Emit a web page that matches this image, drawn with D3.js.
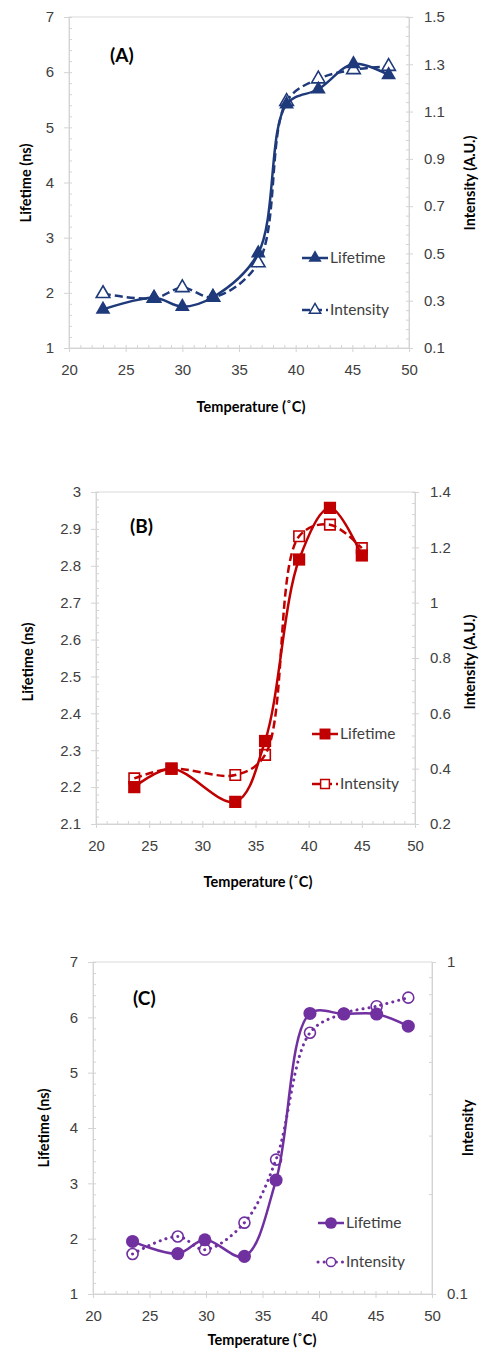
<!DOCTYPE html>
<html>
<head>
<meta charset="utf-8">
<script src="https://cdn.jsdelivr.net/npm/d3@7"></script>
<style>
  body { margin: 0; background: #fff; }
  svg { display: block; font-family: Lato, "Open Sans", sans-serif; }
  .tick text { fill: #404040; font-size: 15px; }
  .domain, .tick line { stroke: #d4d4d4; }
</style>
</head>
<body>
<svg id="chart" width="480" height="1351"></svg>
<script>
// Panel A
const tempA = [23, 27.5, 30, 32.7, 36.7, 39.2, 42, 45.1, 48.2];
const lifetimeA = [1.70, 1.91, 1.75, 1.92, 2.72, 5.42, 5.69, 6.15, 5.95];
const intensityA = [0.33, 0.31, 0.355, 0.315, 0.46, 1.143, 1.238, 1.277, 1.291];

// Panel B
const tempB = [23.6, 27.1, 33.1, 35.9, 39.1, 42.0, 45.0];
const lifetimeB = [2.20, 2.25, 2.16, 2.325, 2.817, 2.957, 2.828];
const intensityB = [0.365, 0.40, 0.377, 0.45, 1.24, 1.282, 1.197];

// Panel C
const tempC = [23.5, 27.5, 29.9, 33.4, 36.2, 39.2, 42.2, 45.1, 47.9];
const lifetimeC = [1.95, 1.73, 1.98, 1.68, 3.06, 6.07, 6.06, 6.06, 5.84];
const intensityC = [0.132, 0.149, 0.136, 0.164, 0.254, 0.612, 0.70, 0.736, 0.781];

// tick labels
const xTicks = [20, 25, 30, 35, 40, 45, 50];
const leftTicksA = [1, 2, 3, 4, 5, 6, 7];
const rightTicksA = [0.1, 0.3, 0.5, 0.7, 0.9, 1.1, 1.3, 1.5];
const leftTicksB = [2.1, 2.2, 2.3, 2.4, 2.5, 2.6, 2.7, 2.8, 2.9, 3];
const rightTicksB = [0.2, 0.4, 0.6, 0.8, 1, 1.2, 1.4];
const leftTicksC = [1, 2, 3, 4, 5, 6, 7];
const rightTicksC = [0.1, 1];
const seriesNames = ["Lifetime", "Intensity"];

const svg = d3.select("#chart");

const panels = [
  {
    label: "(A)", color: "#1f3a7a", marker: d3.symbolTriangle, mSize: 95, oSize: 80,
    openFill: "#fff", dash: "8,4", cap: "butt",
    temp: tempA, life: lifetimeA, inten: intensityA,
    box: { l: 69, r: 409, t: 17, b: 348 },
    leftDom: [1, 7], leftTicks: leftTicksA, leftMinor: 0.2,
    rightDom: [0.1, 1.5], rightTicks: rightTicksA, rightMinor: 0.04, log: false,
    rightTitle: "Intensity (A.U.)",
    leftTitleX: 31, rightTitleX: 475, titleY: 183, xTitleX: 251, xTitleY: 412,
    labelPos: [110, 62], legX: 302, legY: [258, 310]
  },
  {
    label: "(B)", color: "#c00000", marker: d3.symbolSquare, mSize: 150, oSize: 110,
    openFill: "none", dash: "8,4", cap: "butt",
    temp: tempB, life: lifetimeB, inten: intensityB,
    box: { l: 96, r: 415, t: 492, b: 824 },
    leftDom: [2.1, 3], leftTicks: leftTicksB, leftMinor: 0.02,
    rightDom: [0.2, 1.4], rightTicks: rightTicksB, rightMinor: 0.04, log: false,
    rightTitle: "Intensity (A.U.)",
    leftTitleX: 33, rightTitleX: 475, titleY: 662, xTitleX: 258, xTitleY: 887,
    labelPos: [130, 533], legX: 312, legY: [734, 784]
  },
  {
    label: "(C)", color: "#7030a0", marker: d3.symbolCircle, mSize: 135, oSize: 95,
    openFill: "none", dash: "0.1,6", cap: "round",
    temp: tempC, life: lifetimeC, inten: intensityC,
    box: { l: 93, r: 432, t: 962, b: 1294 },
    leftDom: [1, 7], leftTicks: leftTicksC, leftMinor: 0.2,
    rightDom: [0.1, 1], rightTicks: rightTicksC, rightMinor: null, log: true,
    rightTitle: "Intensity",
    leftTitleX: 49, rightTitleX: 473, titleY: 1128, xTitleX: 262, xTitleY: 1345,
    labelPos: [133, 1005], legX: 318, legY: [1223, 1262]
  }
];

function range(a, b, step) {
  const out = [];
  const n = Math.round((b - a) / step);
  for (let i = 0; i <= n; i++) out.push(+(a + i * step).toFixed(4));
  return out;
}

function fmt(v) { return String(+v.toFixed(2)); }

panels.forEach(p => {
  const g = svg.append("g");
  const { l, r, t, b } = p.box;

  const x = d3.scaleLinear().domain([20, 50]).range([l, r]);
  const yL = d3.scaleLinear().domain(p.leftDom).range([b, t]);
  const yR = (p.log ? d3.scaleLog() : d3.scaleLinear()).domain(p.rightDom).range([b, t]);

  // plot frame
  g.append("rect")
    .attr("x", l).attr("y", t).attr("width", r - l).attr("height", b - t)
    .attr("fill", "none").attr("stroke", "#d9d9d9");

  // minor ticks
  g.append("g").attr("transform", `translate(0,${b})`)
    .call(d3.axisBottom(x).tickValues(range(20, 50, 1)).tickSize(-3).tickFormat(""))
    .call(s => s.select(".domain").remove());
  g.append("g").attr("transform", `translate(${l},0)`)
    .call(d3.axisLeft(yL).tickValues(range(p.leftDom[0], p.leftDom[1], p.leftMinor)).tickSize(-3).tickFormat(""))
    .call(s => s.select(".domain").remove());
  const rMinor = p.log ? [0.2, 0.3, 0.4, 0.5, 0.6, 0.7, 0.8, 0.9] : range(p.rightDom[0], p.rightDom[1], p.rightMinor);
  g.append("g").attr("transform", `translate(${r},0)`)
    .call(d3.axisRight(yR).tickValues(rMinor).tickSize(-3).tickFormat(""))
    .call(s => s.select(".domain").remove());

  // major axes
  g.append("g").attr("transform", `translate(0,${b})`)
    .call(d3.axisBottom(x).tickValues(xTicks).tickSize(4).tickSizeOuter(0).tickPadding(12).tickFormat(d3.format("d")));
  g.append("g").attr("transform", `translate(${l},0)`)
    .call(d3.axisLeft(yL).tickValues(p.leftTicks).tickSize(5).tickSizeOuter(0).tickPadding(10).tickFormat(fmt));
  g.append("g").attr("transform", `translate(${r},0)`)
    .call(d3.axisRight(yR).tickValues(p.rightTicks).tickSize(4).tickSizeOuter(0).tickPadding(11).tickFormat(fmt));

  // titles
  g.append("text")
    .attr("transform", `translate(${p.leftTitleX},${p.titleY}) rotate(-90)`)
    .attr("text-anchor", "middle").attr("font-size", 14.5).attr("font-weight", "bold")
    .text("Lifetime (ns)");
  g.append("text")
    .attr("transform", `translate(${p.rightTitleX},${p.titleY}) rotate(-90)`)
    .attr("text-anchor", "middle").attr("font-size", 14.5).attr("font-weight", "bold")
    .text(p.rightTitle);
  g.append("text")
    .attr("x", p.xTitleX).attr("y", p.xTitleY)
    .attr("text-anchor", "middle").attr("font-size", 14.5).attr("font-weight", "bold")
    .text("Temperature (˚C)");
  g.append("text")
    .attr("x", p.labelPos[0]).attr("y", p.labelPos[1])
    .attr("font-size", 19).attr("font-weight", "bold")
    .text(p.label);

  const curve = d3.curveCatmullRom.alpha(0.5);
  const lifePts = p.temp.map((d, i) => [x(d), yL(p.life[i])]);
  const intPts = p.temp.map((d, i) => [x(d), yR(p.inten[i])]);

  // intensity series (open markers)
  g.append("path")
    .attr("d", d3.line().curve(curve)(intPts))
    .attr("fill", "none").attr("stroke", p.color).attr("stroke-width", p.log ? 3 : 2.5)
    .attr("stroke-dasharray", p.dash).attr("stroke-linecap", p.cap);
  g.selectAll(".open").data(intPts).join("path")
    .attr("class", "open")
    .attr("transform", d => `translate(${d[0]},${d[1]})`)
    .attr("d", d3.symbol(p.marker, p.oSize))
    .attr("fill", p.openFill).attr("stroke", p.color).attr("stroke-width", 1.6);

  // lifetime series (filled markers)
  g.append("path")
    .attr("d", d3.line().curve(curve)(lifePts))
    .attr("fill", "none").attr("stroke", p.color).attr("stroke-width", 2.5);
  g.selectAll(".filled").data(lifePts).join("path")
    .attr("class", "filled")
    .attr("transform", d => `translate(${d[0]},${d[1]})`)
    .attr("d", d3.symbol(p.marker, p.mSize))
    .attr("fill", p.color);

  // legend
  seriesNames.forEach((name, i) => {
    const ly = p.legY[i];
    const lg = g.append("g");
    lg.append("line")
      .attr("x1", p.legX).attr("x2", p.legX + 26).attr("y1", ly).attr("y2", ly)
      .attr("stroke", p.color).attr("stroke-width", i === 0 ? 2.5 : (p.log ? 3 : 2.5))
      .attr("stroke-dasharray", i === 0 ? null : p.dash).attr("stroke-linecap", i === 0 ? "butt" : p.cap);
    lg.append("path")
      .attr("transform", `translate(${p.legX + 13},${ly})`)
      .attr("d", d3.symbol(p.marker, i === 0 ? p.mSize * 0.8 : p.oSize * 0.7))
      .attr("fill", i === 0 ? p.color : "#fff")
      .attr("stroke", i === 0 ? null : p.color).attr("stroke-width", 1.5);
    lg.append("text")
      .attr("x", p.legX + 28).attr("y", ly + 5)
      .attr("font-size", 15.5).attr("fill", "#404040")
      .text(name);
  });
});
</script>
</body>
</html>
